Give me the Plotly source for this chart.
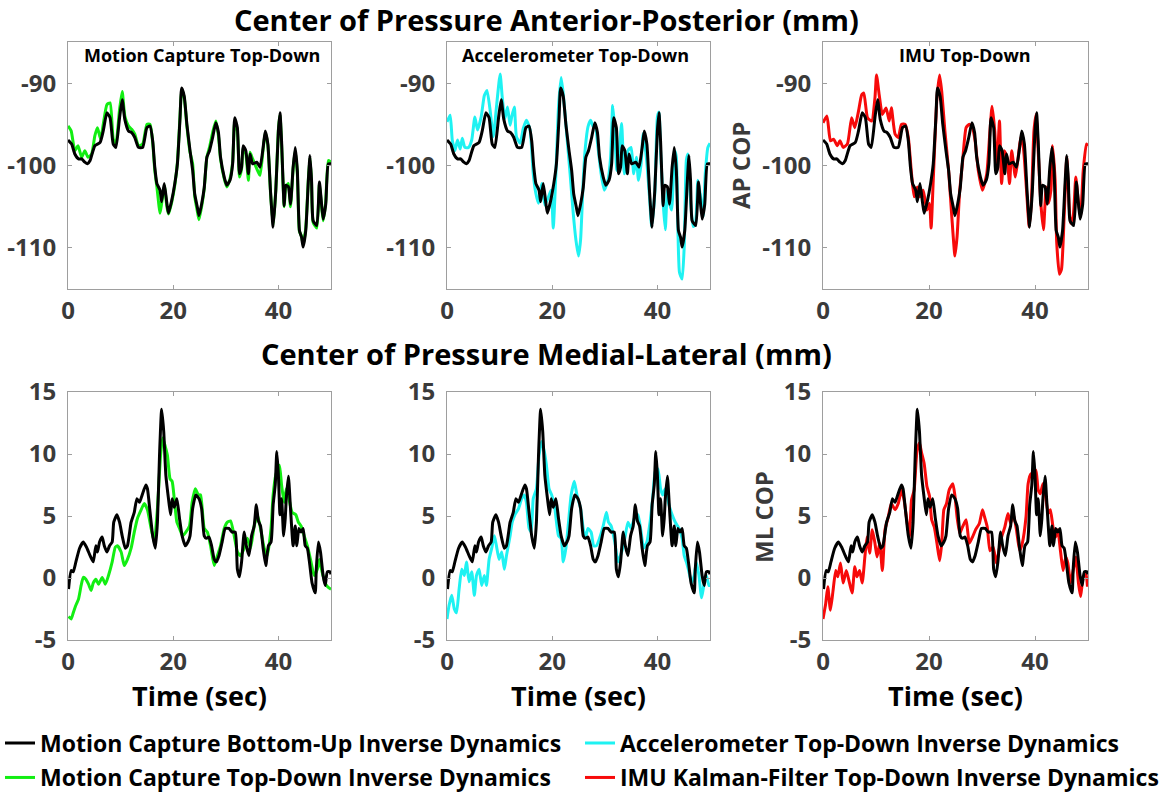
import plotly.graph_objects as go

# ---------------- DATA ----------------
# Black: Motion Capture Bottom-Up (AP)
t_ap_black = [0, 0.7, 1.3, 2.0, 2.6, 3.2, 3.7, 4.2, 5.1, 6.1, 6.7, 7.4, 8.0, 8.6, 9.1, 9.8, 10.3, 10.8, 11.5, 12.1,
              12.7, 13.4, 14.2, 15.0, 15.6, 16.1, 16.5, 16.9, 17.5, 17.8, 18.3, 18.8, 19.1, 19.7, 20.3, 20.8, 21.3,
              21.6, 22.1, 22.6, 23.2, 23.7, 24.1, 24.6, 24.9, 25.4, 25.9, 26.4, 26.9, 27.5, 28.1, 28.6, 29.0, 29.7,
              30.2, 30.8, 31.3, 31.7, 32.2, 32.6, 33.0, 33.3, 33.8, 34.3, 34.6, 35.1, 35.9, 36.5, 37.1, 37.5, 38.0,
              38.5, 39.0, 39.5, 40.0, 40.3, 40.6, 41.1, 41.4, 41.9, 42.3, 42.8, 43.2, 43.6, 44.0, 44.4, 44.7, 45.2,
              45.7, 46.0, 46.3, 46.6, 47.3, 47.8, 48.1, 48.5, 49.0, 49.5, 50.0]
ap_black = [-96.9, -97.4, -98.6, -99.2, -99.2, -99.6, -99.8, -99.4, -97.6, -97.2, -95.8, -93.6, -94.2, -97.4, -97.8,
            -94.2, -92.0, -94.4, -95.8, -96.0, -96.6, -97.8, -97.8, -95.4, -95.2, -97.0, -100.2, -102.2, -103.0,
            -104.4, -102.2, -104.6, -105.8, -104.3, -102.2, -99.8, -94.2, -90.6, -91.6, -95.0, -98.2, -100.6,
            -103.5, -105.1, -106.1, -104.7, -102.7, -99.0, -98.2, -96.6, -94.8, -96.0, -99.0, -101.4, -102.4,
            -101.8, -99.8, -94.2, -95.4, -101.0, -100.2, -97.6, -98.2, -101.0, -98.6, -99.8, -99.6, -100.2, -97.8,
            -95.8, -97.4, -103.1, -107.5, -103.1, -95.8, -93.6, -97.0, -104.9, -102.4, -102.6, -104.7, -100.2,
            -97.8, -100.6, -107.9, -108.7, -109.9, -107.9, -101.8, -98.8, -101.8, -106.7, -107.3, -102.0, -103.9,
            -106.5, -104.7, -99.8, -99.8]

# Green: Motion Capture Top-Down (AP)
t_ap_green = [0, 0.6, 1.3, 1.9, 2.6, 3.2, 3.8, 4.5, 5.1, 5.6, 6.2, 6.7, 7.4, 8.0, 8.6, 9.1, 9.8, 10.3, 10.8, 11.5,
              12.1, 12.7, 13.4, 14.2, 15.0, 15.6, 16.1, 16.5, 16.9, 17.5, 17.8, 18.3, 18.8, 19.1, 19.7, 20.3, 20.8,
              21.3, 21.6, 22.1, 22.6, 23.2, 23.7, 24.1, 24.6, 24.9, 25.4, 25.9, 26.4, 26.9, 27.5, 28.1, 28.6, 29.0,
              29.7, 30.2, 30.8, 31.3, 31.7, 32.2, 32.6, 33.0, 33.3, 33.8, 34.3, 34.6, 35.1, 35.9, 36.5, 37.1, 37.5,
              38.0, 38.5, 39.0, 39.5, 40.0, 40.3, 40.6, 41.1, 41.4, 41.9, 42.3, 42.8, 43.2, 43.6, 44.0, 44.4, 44.7,
              45.2, 45.7, 46.0, 46.3, 46.6, 47.3, 47.8, 48.1, 48.5, 49.0, 49.5, 50.0]
ap_green = [-95.2, -95.8, -98.2, -97.6, -99.0, -98.2, -99.0, -98.6, -96.4, -95.4, -96.8, -95.0, -92.6, -92.4, -96.8,
            -97.4, -93.2, -91.0, -94.0, -95.2, -95.6, -96.2, -97.6, -97.4, -95.0, -95.0, -97.2, -100.6, -102.6,
            -105.8, -104.6, -102.4, -105.0, -105.9, -104.5, -102.4, -99.6, -94.0, -90.8, -91.8, -95.2, -98.4,
            -99.8, -103.8, -105.6, -106.6, -105.0, -102.8, -99.0, -97.8, -96.0, -94.6, -96.4, -99.2, -101.6,
            -102.6, -101.6, -99.6, -94.6, -95.8, -101.4, -100.4, -97.8, -98.6, -101.8, -98.4, -99.2, -100.4,
            -101.2, -98.0, -96.0, -97.6, -103.3, -107.3, -103.0, -95.6, -93.8, -97.4, -105.0, -102.6, -102.2,
            -105.0, -100.4, -98.2, -101.0, -108.0, -108.6, -109.6, -107.6, -101.6, -99.0, -102.0, -106.9, -107.6,
            -102.2, -104.2, -106.7, -104.4, -99.4, -99.6]

# Cyan: Accelerometer Top-Down (AP)
t_ap_cyan = [0, 0.6, 1.0, 1.5, 2.0, 2.5, 2.9, 3.4, 4.1, 4.7, 5.3, 5.8, 6.5, 7.1, 7.6, 8.2, 8.8, 9.4, 10.1, 10.5,
             11.0, 11.5, 12.0, 12.3, 12.8, 13.2, 13.9, 14.5, 15.1, 15.8, 16.4, 16.9, 17.4, 18.0, 18.6, 19.3, 19.8,
             20.2, 20.7, 21.2, 21.7, 22.1, 22.8, 23.4, 24.0, 24.5, 25.0, 25.4, 25.9, 26.3, 26.8, 27.3, 27.8, 28.2,
             28.7, 29.3, 29.9, 30.6, 31.1, 31.5, 31.8, 32.3, 32.8, 33.2, 33.7, 34.4, 35.0, 35.5, 36.0, 36.4, 36.9,
             37.3, 37.9, 38.5, 38.9, 39.5, 40.0, 40.3, 40.6, 41.1, 41.5, 41.9, 42.3, 42.7, 43.3, 43.6, 43.9, 44.2,
             44.7, 45.1, 45.5, 45.8, 46.3, 46.8, 47.2, 47.7, 48.2, 48.7, 49.1, 49.6, 50.0]
ap_cyan = [-94.7, -93.9, -96.9, -98.2, -96.9, -98.0, -96.7, -97.8, -97.8, -96.9, -94.1, -95.7, -94.1, -91.5, -90.9,
           -93.3, -96.5, -92.9, -88.9, -91.7, -94.3, -92.9, -95.1, -94.1, -92.9, -96.5, -97.3, -95.5, -94.5, -95.7,
           -101.0, -103.4, -104.6, -102.2, -104.8, -103.8, -103.0, -107.6, -101.0, -92.9, -89.3, -91.3, -96.5,
           -101.0, -105.8, -109.0, -111.0, -109.0, -101.8, -97.8, -95.3, -94.5, -95.3, -95.3, -97.8, -101.0,
           -103.0, -101.8, -99.0, -92.7, -94.9, -100.6, -97.8, -94.9, -101.0, -98.2, -97.8, -101.0, -99.0,
           -101.8, -99.8, -96.1, -99.0, -103.8, -107.4, -103.4, -94.1, -93.5, -98.2, -104.6, -107.8, -103.0,
           -104.6, -105.4, -98.2, -99.0, -107.8, -113.0, -113.8, -109.8, -99.4, -98.6, -104.2, -107.4, -107.2,
           -101.8, -103.8, -106.2, -101.0, -97.8, -97.3]

# Red: IMU Kalman-Filter Top-Down (AP)
t_ap_red = [0.0, 0.75, 1.4, 2.0, 2.7, 3.2, 3.8, 4.6, 5.4, 6.0, 6.7, 7.3, 7.7, 8.4, 9.2, 9.8, 10.1, 10.6, 11.2, 11.9,
            12.5, 12.9, 13.6, 14.2, 14.8, 15.5, 16.1, 16.7, 17.2, 17.8, 18.3, 18.9, 19.6, 20.1, 20.4, 20.8, 21.5,
            22.0, 22.4, 23.0, 23.7, 24.3, 24.9, 25.3, 25.8, 26.3, 27.0, 27.6, 28.2, 28.7, 29.3, 30.1, 30.9, 31.5,
            31.9, 32.4, 32.8, 33.3, 33.7, 34.2, 34.7, 35.2, 35.6, 36.3, 36.9, 37.3, 37.8, 38.4, 38.9, 39.3, 39.8,
            40.2, 40.6, 41.1, 41.6, 42.1, 42.5, 43.0, 43.3, 43.8, 44.1, 44.6, 45.0, 45.5, 46.0, 46.3, 46.7, 47.2,
            47.7, 48.2, 48.6, 49.1, 49.7, 50.0]
ap_red = [-94.8, -94.0, -97.0, -96.8, -97.6, -97.0, -97.8, -97.4, -94.2, -95.4, -93.4, -91.4, -91.2, -94.2, -94.6,
          -91.8, -89.0, -91.4, -93.8, -93.0, -94.6, -93.0, -96.2, -96.6, -95.0, -95.0, -96.6, -101.0, -103.8,
          -102.6, -103.8, -103.0, -105.4, -104.6, -107.6, -101.8, -91.8, -89.0, -91.0, -95.8, -100.6, -106.2,
          -111.0, -108.6, -103.0, -99.8, -95.4, -95.0, -95.4, -97.0, -100.6, -103.0, -101.0, -95.8, -92.8, -95.8,
          -100.6, -94.6, -102.2, -98.2, -99.0, -102.2, -98.2, -101.4, -98.6, -96.6, -97.8, -103.0, -107.4, -104.6,
          -95.8, -93.8, -98.2, -104.6, -107.8, -102.6, -104.6, -103.0, -97.6, -101.8, -109.4, -113.2, -112.6,
          -106.2, -99.0, -103.0, -107.0, -106.2, -101.4, -104.6, -106.2, -100.6, -97.4, -97.6]

# Black: Motion Capture Bottom-Up (ML)
t_ml_black = [0.1, 0.6, 1.0, 1.5, 2.2, 2.9, 3.5, 4.2, 4.8, 5.3, 5.6, 6.0, 6.5, 6.9, 7.4, 7.9, 8.4, 8.7, 9.3, 9.8,
              10.3, 10.9, 11.3, 12.0, 12.6, 13.1, 13.6, 14.1, 14.8, 15.1, 15.6, 16.1, 16.6, 17.0, 17.4, 17.8, 18.2,
              18.6, 19.1, 19.5, 19.8, 20.2, 20.7, 21.2, 21.7, 22.3, 22.8, 23.2, 23.7, 24.3, 24.9, 25.4, 25.9, 26.3,
              26.8, 27.3, 27.8, 28.2, 28.7, 29.3, 29.9, 30.6, 31.2, 31.8, 32.2, 32.6, 33.0, 33.5, 33.9, 34.4, 34.9,
              35.4, 35.8, 36.2, 36.6, 37.1, 37.6, 38.1, 38.6, 39.0, 39.4, 39.7, 40.0, 40.3, 40.6, 41.0, 41.3, 41.5,
              41.9, 42.3, 42.8, 43.2, 43.5, 43.9, 44.3, 44.7, 45.1, 45.5, 45.9, 46.4, 47.0, 47.2, 47.6, 48.0, 48.5,
              48.9, 49.3, 49.8, 50.0]
ml_black = [-0.9, 0.6, 0.5, 1.3, 2.4, 2.9, 2.5, 1.8, 1.3, 2.6, 2.1, 2.9, 3.3, 2.6, 2.1, 2.6, 2.9, 4.5, 5.1, 4.5, 3.4,
            2.4, 2.6, 4.5, 5.3, 6.4, 6.1, 6.7, 7.5, 7.2, 5.3, 3.4, 2.4, 4.5, 9.9, 13.6, 11.8, 8.3, 6.4, 5.1, 6.4,
            5.7, 6.4, 4.8, 3.4, 2.6, 2.9, 3.4, 5.6, 6.7, 6.4, 5.6, 3.4, 3.2, 3.3, 2.6, 1.5, 1.3, 1.8, 2.9, 4.0,
            4.0, 3.7, 3.7, 0.7, 0.1, 1.3, 3.7, 2.6, 1.8, 3.4, 4.2, 5.9, 4.6, 4.2, 2.4, 1.0, 2.6, 2.9, 5.9, 7.5,
            10.2, 8.3, 5.1, 6.4, 3.4, 4.8, 6.4, 8.2, 5.6, 2.6, 4.2, 2.6, 4.0, 3.7, 4.0, 2.6, 2.4, 1.3, -0.4, -1.2,
            0.7, 2.9, 2.1, 0.2, -0.6, 0.5, 0.5, 0.3]

# Green: Motion Capture Top-Down (ML)
t_ml_green = [0.1, 0.6, 1.0, 1.5, 2.0, 2.5, 2.9, 3.4, 3.9, 4.4, 4.8, 5.3, 5.8, 6.5, 7.1, 7.7, 8.4, 9.0, 9.4, 10.1,
              10.7, 11.3, 12.0, 12.6, 13.2, 13.9, 14.5, 15.1, 15.8, 16.4, 17.0, 17.6, 18.0, 18.5, 18.9, 19.4, 19.8,
              20.2, 20.7, 21.2, 21.8, 22.4, 23.1, 23.6, 24.2, 24.8, 25.2, 25.9, 26.5, 27.1, 27.8, 28.4, 29.0, 29.7,
              30.3, 30.9, 31.6, 32.2, 32.8, 33.5, 34.1, 34.7, 35.4, 36.0, 36.6, 37.3, 37.9, 38.6, 39.0, 39.5, 40.2,
              40.6, 41.1, 41.5, 42.0, 42.6, 43.3, 43.8, 44.3, 44.9, 45.5, 46.2, 46.8, 47.4, 47.8, 48.3, 49.0, 49.6,
              50.0]
ml_green = [-3.1, -3.3, -2.8, -2.2, -1.7, -0.6, 0.05, -0.1, -0.5, -1.0, -0.4, -0.1, -0.5, 0.05, -0.5, 0.2, 1.3, 2.5,
            2.6, 2.1, 1.0, 1.5, 2.4, 3.7, 4.8, 5.5, 6.0, 5.5, 4.0, 2.9, 5.6, 9.9, 11.3, 10.6, 9.9, 8.0, 7.8, 6.4,
            4.5, 4.0, 3.4, 3.7, 4.2, 6.1, 7.2, 6.7, 6.7, 4.0, 3.7, 2.6, 1.0, 1.8, 2.6, 4.0, 4.5, 4.6, 3.4, 2.1,
            1.8, 2.4, 3.2, 2.4, 4.2, 5.1, 4.0, 2.4, 1.8, 4.0, 6.7, 8.3, 9.1, 7.5, 6.1, 7.2, 6.4, 5.3, 5.1, 4.5,
            4.2, 3.4, 2.6, 1.3, 0.2, 0.7, 1.5, 0.5, -0.5, -0.8, -0.9]

# Cyan: Accelerometer Top-Down (ML)
t_ml_cyan = [0, 0.4, 0.9, 1.4, 1.8, 2.3, 2.8, 3.3, 3.7, 4.2, 4.7, 5.2, 5.6, 6.1, 6.6, 7.1, 7.5, 8.0, 8.5, 9.0, 9.4,
             9.9, 10.4, 10.9, 11.3, 12.0, 12.4, 12.9, 13.6, 14.2, 14.7, 15.1, 15.6, 16.0, 16.4, 17.0, 17.5, 18.0,
             18.5, 18.9, 19.4, 19.9, 20.5, 21.2, 21.7, 22.1, 22.6, 23.1, 23.6, 24.2, 24.7, 25.4, 25.9, 26.3, 26.8,
             27.4, 27.9, 28.4, 29.0, 29.7, 30.3, 30.7, 31.2, 31.9, 32.5, 33.2, 33.8, 34.4, 35.0, 35.6, 36.3, 36.9,
             37.4, 38.0, 38.6, 39.1, 39.6, 40.1, 40.6, 41.0, 41.5, 42.2, 42.8, 43.4, 44.1, 44.7, 45.1, 45.5, 46.0,
             46.5, 47.0, 47.4, 47.9, 48.4, 48.9, 49.3, 49.8, 50.0]
ml_cyan = [-3.3, -2.2, -1.4, -2.5, -2.8, -0.9, 0.7, 0.2, 1.3, -0.3, 0.5, -1.4, 0.2, 0.7, -0.6, 0.2, -0.6, 1.5, 2.4,
           3.4, 2.6, 1.5, 2.1, 0.7, 1.8, 3.4, 4.5, 5.1, 5.6, 6.4, 6.7, 6.1, 4.0, 3.7, 6.4, 7.2, 9.9, 11.0, 10.2,
           9.1, 7.2, 6.7, 5.6, 3.4, 3.2, 1.3, 2.4, 4.5, 6.7, 7.8, 6.7, 5.6, 4.0, 3.2, 4.0, 3.7, 2.6, 2.6, 3.2,
           4.2, 5.3, 4.5, 4.2, 2.9, 1.3, 2.1, 3.2, 4.5, 4.0, 4.8, 5.1, 3.7, 2.4, 2.9, 4.5, 6.4, 8.6, 8.8, 7.2,
           6.7, 7.2, 5.9, 5.1, 4.5, 4.0, 3.2, 1.8, 1.3, 0.5, -0.4, 0.2, 1.3, 0.2, -1.6, -0.4, 0.2, -0.6, -0.6]

# Red: IMU Kalman-Filter Top-Down (ML)
t_ml_red = [0.0, 0.5, 0.9, 1.4, 1.9, 2.4, 2.8, 3.3, 3.8, 4.4, 5.0, 5.5, 6.0, 6.4, 6.9, 7.4, 7.9, 8.3, 8.8, 9.3, 9.8,
            10.2, 10.7, 11.2, 11.7, 12.3, 12.9, 13.6, 14.2, 14.8, 15.3, 15.8, 16.3, 16.7, 17.2, 17.7, 18.2, 18.6,
            19.1, 19.6, 20.1, 20.5, 21.0, 21.5, 22.0, 22.4, 22.8, 23.3, 23.8, 24.5, 24.9, 25.3, 25.8, 26.3, 27.0,
            27.6, 28.2, 28.8, 29.5, 30.1, 30.5, 31.0, 31.5, 32.1, 32.7, 33.2, 33.7, 34.3, 34.9, 35.4, 35.9, 36.5,
            37.1, 37.6, 38.3, 38.7, 39.2, 39.7, 40.2, 40.6, 41.0, 41.5, 42.0, 42.5, 42.9, 43.4, 43.9, 44.3, 44.8,
            45.3, 45.8, 46.2, 46.7, 47.2, 47.7, 48.2, 48.6, 49.1, 49.6, 49.9]
ml_red = [-3.3, -2.1, -0.7, -2.6, -1.0, 0.6, 0.1, 1.2, -0.4, 0.6, -0.4, -1.2, 0.9, 0.1, 0.6, -0.4, 1.7, 3.3, 2.0, 3.9,
          2.8, 1.7, 2.8, 0.6, 3.9, 4.9, 6.0, 5.5, 6.0, 7.1, 6.3, 4.7, 3.3, 6.3, 7.1, 10.1, 10.9, 10.1, 9.2, 7.4,
          6.6, 4.7, 4.1, 2.8, 1.4, 2.8, 5.5, 6.0, 7.1, 7.6, 6.6, 4.9, 3.6, 4.1, 4.7, 2.8, 3.3, 3.9, 4.4, 5.5, 4.9,
          4.1, 2.2, 2.5, 1.2, 2.2, 3.3, 4.1, 5.2, 4.4, 5.2, 3.9, 2.2, 2.8, 4.9, 7.6, 8.4, 8.2, 8.7, 7.1, 6.8, 7.6,
          6.6, 5.2, 5.5, 4.1, 3.3, 3.9, 2.2, 0.6, 1.7, 1.2, -0.4, 0.6, 1.7, -0.4, -1.5, 0.1, 0.4, -0.7]

# Text / tick inputs
panel_titles = ["Motion Capture Top-Down", "Accelerometer Top-Down", "IMU Top-Down"]
names = {"black": "Motion Capture Bottom-Up Inverse Dynamics",
         "green": "Motion Capture Top-Down Inverse Dynamics",
         "cyan": "Accelerometer Top-Down Inverse Dynamics",
         "red": "IMU Kalman-Filter Top-Down Inverse Dynamics"}
colors = {"black": "#000000", "green": "#12ee12", "cyan": "#1ef2f2", "red": "#f70a0a"}
ap_ticks = [-110, -100, -90]
ml_ticks = [-5, 0, 5, 10, 15]
time_ticks = [0, 20, 40]

# ---------------- FIGURE ----------------
W, H = 1165, 799
FONT = "Open Sans"
TICK_COLOR = "#3a3a3a"

col_px = [(68, 331), (447, 710), (823, 1088)]
row_px = [(42, 289), (392, 640)]

fig = go.Figure()

ap_series = [("green", t_ap_green, ap_green), ("cyan", t_ap_cyan, ap_cyan), ("red", t_ap_red, ap_red)]
ml_series = [("green", t_ml_green, ml_green), ("cyan", t_ml_cyan, ml_cyan), ("red", t_ml_red, ml_red)]
legend_of = {"black": "legend", "cyan": "legend2", "green": "legend3", "red": "legend4"}
LINE_SHAPE = dict(shape="spline", smoothing=0.5)

for r in range(2):
    for c in range(3):
        idx = r * 3 + c + 1
        xa = "x" if idx == 1 else f"x{idx}"
        ya = "y" if idx == 1 else f"y{idx}"
        key, tx, vy = (ap_series if r == 0 else ml_series)[c]
        tb, vb = (t_ap_black, ap_black) if r == 0 else (t_ml_black, ml_black)
        fig.add_trace(go.Scatter(x=tx, y=vy, mode="lines", xaxis=xa, yaxis=ya,
                                 line=dict(color=colors[key], width=3, **LINE_SHAPE),
                                 name=names[key], legend=legend_of[key],
                                 showlegend=(r == 0)))
        fig.add_trace(go.Scatter(x=tb, y=vb, mode="lines", xaxis=xa, yaxis=ya,
                                 line=dict(color=colors["black"], width=3, **LINE_SHAPE),
                                 name=names["black"], legend="legend",
                                 showlegend=(idx == 1)))
        x0, x1 = col_px[c]
        y0, y1 = row_px[r]
        axis_common = dict(showline=True, linecolor="#9e9e9e", linewidth=1, mirror="ticks",
                           ticks="inside", ticklen=4, tickcolor="#9e9e9e", showgrid=False,
                           zeroline=False, automargin=False,
                           tickfont=dict(family=FONT, size=24, color=TICK_COLOR, weight="bold"))
        yt = ap_ticks if r == 0 else ml_ticks
        fig.update_layout(**{
            ("xaxis" if idx == 1 else f"xaxis{idx}"): dict(
                domain=[x0 / W, x1 / W], anchor=ya, range=[0, 50], tickvals=time_ticks,
                ticktext=[str(v) for v in time_ticks], ticklabelstandoff=0, **axis_common),
            ("yaxis" if idx == 1 else f"yaxis{idx}"): dict(
                domain=[1 - y1 / H, 1 - y0 / H], anchor=xa,
                range=[-115, -85] if r == 0 else [-5, 15],
                tickvals=yt, ticktext=[str(v) for v in yt],
                ticklabelstandoff=6, **axis_common),
        })

annotations = []
def add_text(text, xpx, ypx, size, color="#000000", angle=0):
    annotations.append(dict(text=f"<b>{text}</b>", x=xpx / W, y=1 - ypx / H, xref="paper", yref="paper",
                            showarrow=False, textangle=angle, xanchor="center", yanchor="middle",
                            font=dict(family=FONT, size=size, color=color)))

add_text("Center of Pressure Anterior-Posterior (mm)", 546, 19, 29)
add_text("Center of Pressure Medial-Lateral (mm)", 546, 354, 29)
sub_x = [202, 575, 965]
for c in range(3):
    add_text(panel_titles[c], sub_x[c], 55, 18)
    add_text("Time (sec)", (col_px[c][0] + col_px[c][1]) / 2, 695, 27)
add_text("AP COP", 740, 166, 24, TICK_COLOR, -90)
add_text("ML COP", 763, 517, 24, TICK_COLOR, -90)

leg_font = dict(family=FONT, size=23, color="#000000", weight="bold")
def leg(xpx, ypx, anchor="middle"):
    return dict(x=xpx / W, y=1 - ypx / H, xanchor="left", yanchor=anchor,
                bgcolor="rgba(0,0,0,0)", borderwidth=0, font=leg_font,
                itemwidth=30, tracegroupgap=0)

fig.update_layout(
    width=W, height=H, autosize=False,
    margin=dict(l=0, r=0, t=0, b=0),
    paper_bgcolor="white", plot_bgcolor="white",
    annotations=annotations,
    legend=leg(0, 743), legend2=leg(580, 743),
    legend3=leg(0, H, "bottom"), legend4=leg(580, H, "bottom"),
)

fig.write_html("out.html")
